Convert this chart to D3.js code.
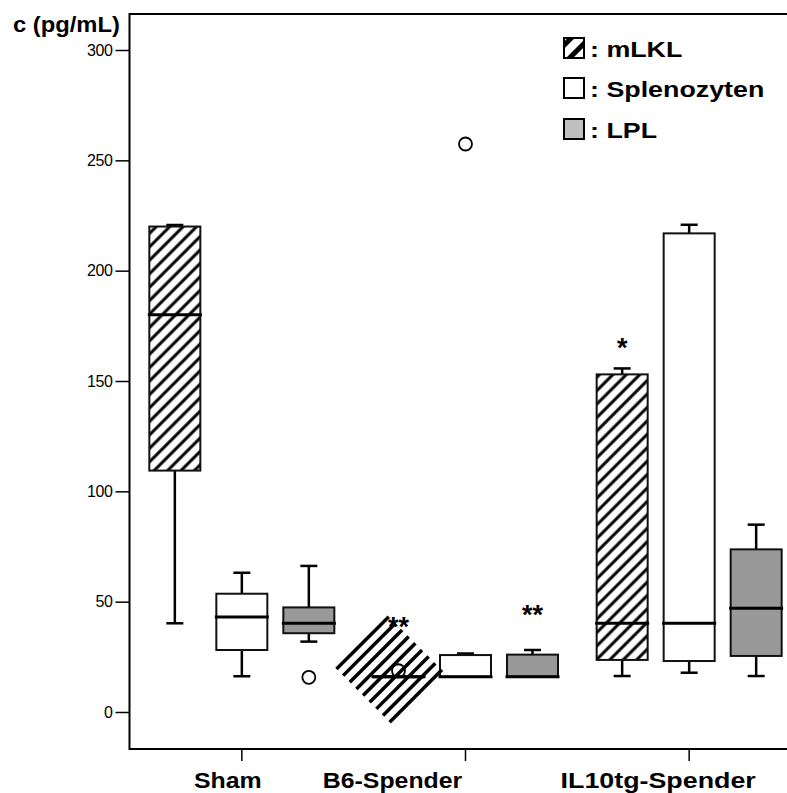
<!DOCTYPE html>
<html><head><meta charset="utf-8">
<script src="https://cdn.jsdelivr.net/npm/d3@7"></script>
<style>
html,body{margin:0;padding:0;background:#fff;}
svg{display:block;font-family:"Liberation Sans",Arial,sans-serif;}
</style></head>
<body><svg id="chart" width="787" height="793"></svg>
<script>
// ---------- data ----------
const groups = ["Sham", "B6-Spender", "IL10tg-Spender"];
const series = ["mLKL", "Splenozyten", "LPL"];
// five-number boxes per group: [whiskerLow, q1, median, q3, whiskerHigh]
const mLKL        = [[40.2, 109.4, 180, 220, 220.7], [16, 16, 16, 16, 16], [16.3, 23.6, 40.2, 153, 155.7]];
const Splenozyten = [[16.2, 28.1, 43.0, 53.6, 63.1], [16, 16, 16, 25.8, 26.5], [17.8, 23.1, 40.2, 216.9, 220.8]];
const LPL         = [[31.9, 35.7, 40.2, 47.4, 66.2], [16, 16, 16, 26, 28.1], [16.3, 25.4, 47.0, 73.7, 84.9]];
const outlierGroups = ["Sham", "B6-Spender", "B6-Spender"];
const outlierSeries = ["LPL", "mLKL", "Splenozyten"];
const outlierValues = [15.7, 18.7, 257.4];
const starGroups = ["B6-Spender", "B6-Spender", "IL10tg-Spender"];
const starSeries = ["mLKL", "LPL", "mLKL"];
const starTexts  = ["**", "**", "*"];
const starValues = [34.4, 39.9, 160.9];
const yTicks = [0, 50, 100, 150, 200, 250, 300];
const yTitle = "c (pg/mL)";
const legendLabels = [": mLKL", ": Splenozyten", ": LPL"];

const boxData = {mLKL, Splenozyten, LPL};

// ---------- scales ----------
const svg = d3.select("#chart");
const y = d3.scaleLinear().domain([0, 300]).range([712, 50]);
const x = d3.scaleBand().domain(groups).range([130, 801]).padding(0);
const xs = d3.scalePoint().domain(series).range([-67, 67]);
const cx = (g, s) => x(g) + x.bandwidth() / 2 + xs(s);
const boxW = 51, capW = 17;
const FONT = "'Liberation Sans',Arial,sans-serif";

const defs = svg.append("defs");
const hp = defs.append("pattern").attr("id", "hatch").attr("patternUnits", "userSpaceOnUse")
  .attr("width", 9.5).attr("height", 9.5).attr("patternTransform", "rotate(45)");
hp.append("rect").attr("width", 9.5).attr("height", 9.5).attr("fill", "#fff");
hp.append("line").attr("x1", 4.75).attr("x2", 4.75).attr("y1", 0).attr("y2", 9.5)
  .attr("stroke", "#000").attr("stroke-width", 3);
const hl = defs.append("pattern").attr("id", "hatchLeg").attr("patternUnits", "userSpaceOnUse")
  .attr("width", 13).attr("height", 13).attr("patternTransform", "translate(563,37) rotate(45)");
hl.append("rect").attr("width", 13).attr("height", 13).attr("fill", "#fff");
hl.append("line").attr("x1", 6.5).attr("x2", 6.5).attr("y1", 0).attr("y2", 13)
  .attr("stroke", "#000").attr("stroke-width", 5);

const fills = {mLKL: "url(#hatch)", Splenozyten: "#fff", LPL: "#999999"};

// ---------- frame & axes ----------
const yTop = 14, yBot = 749;
svg.append("path").attr("d", `M801,${yTop}H129.5V${yBot}H801`)
  .attr("fill", "none").attr("stroke", "#000").attr("stroke-width", 2);

const yAxis = svg.append("g").attr("transform", "translate(129.5,0)")
  .call(d3.axisLeft(y).tickValues(yTicks).tickSize(14).tickPadding(3).tickFormat(d3.format("d")));
yAxis.attr("font-size", null).attr("font-family", null);
yAxis.select(".domain").remove();
yAxis.selectAll("line").attr("stroke", "#000").attr("stroke-width", 1.5);
yAxis.selectAll("text").style("font-size", "16px").attr("fill", "#000")
  .style("font-family", FONT).attr("letter-spacing", -0.4);

const xAxis = svg.append("g").attr("transform", `translate(0,${yBot})`)
  .call(d3.axisBottom(x).tickSize(12).tickFormat(() => ""));
xAxis.select(".domain").remove();
xAxis.selectAll("line").attr("stroke", "#000").attr("stroke-width", 1.5);

// category labels (drawn stretched horizontally, as in the reference)
const labelShift = [-14, -73, -31];
const labelStretch = [1.13, 1.13, 1.22];
groups.forEach((g, i) => {
  svg.append("text")
    .attr("transform", `translate(${x(g) + x.bandwidth() / 2 + labelShift[i]},788) scale(${labelStretch[i]},1)`)
    .attr("text-anchor", "middle").style("font-size", "22px").attr("font-weight", "bold")
    .style("font-family", FONT).text(g);
});

svg.append("text").attr("transform", "translate(13,32) scale(1.08,1)")
  .style("font-size", "22px").attr("font-weight", "bold").text(yTitle);

// ---------- boxes ----------
const items = [];
groups.forEach((g, gi) => series.forEach(s => {
  const [lo, q1, md, q3, hi] = boxData[s][gi];
  items.push({g, s, lo, q1, md, q3, hi});
}));

const gb = svg.append("g");
items.forEach(d => {
  const c = cx(d.g, d.s);
  const G = gb.append("g");
  if (d.hi > d.q3) {
    G.append("line").attr("x1", c).attr("x2", c).attr("y1", y(d.q3)).attr("y2", y(d.hi)).attr("stroke", "#000").attr("stroke-width", 2.5);
  }
  if (d.hi > d.md) G.append("line").attr("x1", c - capW / 2).attr("x2", c + capW / 2).attr("y1", y(d.hi)).attr("y2", y(d.hi)).attr("stroke", "#000").attr("stroke-width", 2.5);
  if (d.lo < d.q1) {
    G.append("line").attr("x1", c).attr("x2", c).attr("y1", y(d.q1)).attr("y2", y(d.lo)).attr("stroke", "#000").attr("stroke-width", 2.5);
    G.append("line").attr("x1", c - capW / 2).attr("x2", c + capW / 2).attr("y1", y(d.lo)).attr("y2", y(d.lo)).attr("stroke", "#000").attr("stroke-width", 2.5);
  }
  if (d.q3 > d.q1) {
    G.append("rect").attr("x", c - boxW / 2).attr("width", boxW).attr("y", y(d.q3)).attr("height", y(d.q1) - y(d.q3))
      .attr("fill", fills[d.s]).attr("stroke", "#111").attr("stroke-width", 2);
  }
  G.append("line").attr("x1", c - boxW / 2 - 1.5).attr("x2", c + boxW / 2 + 1.5).attr("y1", y(d.md)).attr("y2", y(d.md))
    .attr("stroke", "#000").attr("stroke-width", 3);
});

// degenerate hatched box rendered as a rotated hatch block (as in the reference)
{
  const d = items.find(e => e.g === "B6-Spender" && e.s === "mLKL");
  const c = cx(d.g, d.s) - 9, cyy = y(d.md) - 7;
  const A = svg.append("g").attr("transform", `translate(${c},${cyy}) rotate(-45)`);
  d3.range(9).forEach(i => {
    A.append("line").attr("x1", -37).attr("x2", 37).attr("y1", -38 + i * 9.4).attr("y2", -38 + i * 9.4)
      .attr("stroke", "#000").attr("stroke-width", 3.5);
  });
  svg.append("line").attr("x1", cx(d.g, d.s) - boxW / 2).attr("x2", cx(d.g, d.s) + boxW / 2)
    .attr("y1", y(d.md)).attr("y2", y(d.md)).attr("stroke", "#000").attr("stroke-width", 3);
}

// outliers
outlierValues.forEach((v, i) => {
  svg.append("circle").attr("cx", cx(outlierGroups[i], outlierSeries[i])).attr("cy", y(v)).attr("r", 6.5)
    .attr("fill", "none").attr("stroke", "#000").attr("stroke-width", 1.8);
});

// significance stars
starValues.forEach((v, i) => {
  svg.append("text").attr("x", cx(starGroups[i], starSeries[i])).attr("y", y(v))
    .attr("text-anchor", "middle").style("font-size", "27px").attr("font-weight", "bold").text(starTexts[i]);
});

// ---------- legend ----------
const legFills = ["url(#hatchLeg)", "#fff", "#c0c0c0"];
const legBase = [57, 97, 138];
legendLabels.forEach((t, i) => {
  svg.append("rect").attr("x", 564).attr("y", legBase[i] - 19).attr("width", 20).attr("height", 20)
    .attr("fill", legFills[i]).attr("stroke", "#000").attr("stroke-width", 2);
  svg.append("text").attr("transform", `translate(590,${legBase[i]}) scale(1.22,1)`)
    .style("font-size", "22px").attr("font-weight", "bold").text(t);
});
</script></body></html>
